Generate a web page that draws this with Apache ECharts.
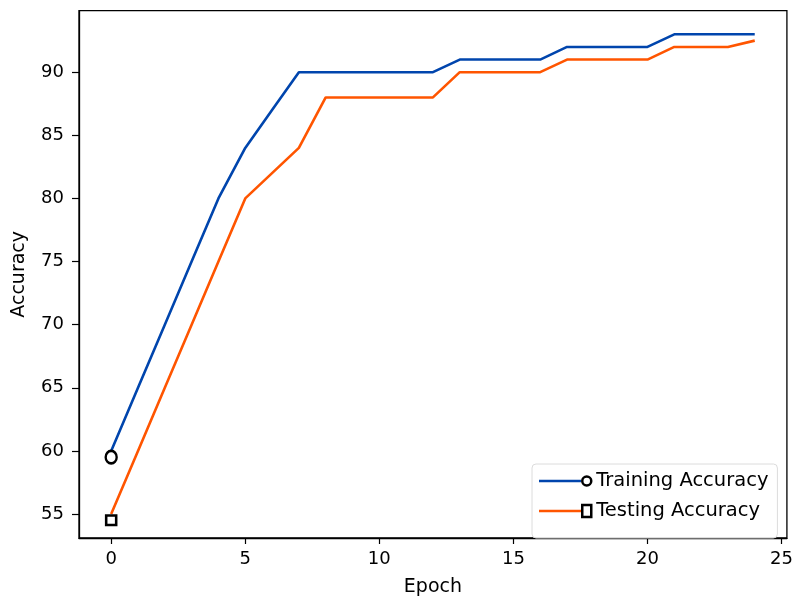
<!DOCTYPE html>
<html>
<head>
<meta charset="utf-8">
<script src="https://cdn.jsdelivr.net/npm/echarts@6/dist/echarts.min.js"></script>
<style>
html,body{margin:0;padding:0;background:#fff;}
#chart{width:796px;height:602px;}
</style>
</head>
<body>
<div id="chart"></div>
<script>
// ---- data ----
const epochs = [0,1,2,3,4,5,6,7,8,9,10,11,12,13,14,15,16,17,18,19,20,21,22,23,24];
const trainingAccuracy = [60,65,70,75,80,84,87,90,90,90,90,90,90,91,91,91,91,92,92,92,92,93,93,93,93];
const testingAccuracy  = [55,60,65,70,75,80,82,84,88,88,88,88,88,90,90,90,90,91,91,91,91,92,92,92,92.5];
const trainingStart = [[0, 59.5]];
const testingStart  = [[0, 54.5]];
const xTicks = [0,5,10,15,20,25];
const yTicks = [55,60,65,70,75,80,85,90];
const seriesNames = ['Training Accuracy','Testing Accuracy'];

const FONT = 'DejaVu Sans';
const BLUE = '#0045ad';
const ORANGE = '#ff5500';

const pairs = (xs, ys) => xs.map((x, i) => [x, ys[i]]);

const chart = echarts.init(document.getElementById('chart'), null, {renderer:'canvas'});
chart.setOption({
  animation: false,
  backgroundColor: '#fff',
  textStyle: {fontFamily: FONT},
  grid: {show: true, borderColor: '#000', borderWidth: 1.3, backgroundColor: 'transparent',
         left: 79, right: 6.7, top: 10.7, bottom: 62.7},
  xAxis: {
    type: 'value', min: -1.2, max: 25.2,
    name: 'Epoch', nameLocation: 'middle', nameGap: 40,
    nameTextStyle: {fontSize: 19, color: '#000', fontFamily: FONT},
    axisLine: {show: true, onZero: false, lineStyle: {color: '#000', width: 1.3}},
    axisTick: {show: true, length: 6, lineStyle: {color: '#000', width: 1.2}, customValues: xTicks},
    axisLabel: {fontSize: 18, color: '#000', margin: 12, fontFamily: FONT, customValues: xTicks},
    splitLine: {show: false}
  },
  yAxis: {
    type: 'value', min: 53.1, max: 94.87,
    name: 'Accuracy', nameLocation: 'middle', nameGap: 50,
    nameTextStyle: {fontSize: 19, color: '#000', fontFamily: FONT},
    axisLine: {show: true, onZero: false, lineStyle: {color: '#000', width: 1.3}},
    axisTick: {show: true, length: 7, lineStyle: {color: '#000', width: 1.2}, customValues: yTicks},
    axisLabel: {fontSize: 18, color: '#000', margin: 15, fontFamily: FONT, customValues: yTicks},
    splitLine: {show: false}
  },
  legend: [
    {
      // line samples (icons only)
      data: seriesNames, orient: 'vertical', left: 539, top: 471, padding: 0,
      icon: 'rect', itemWidth: 42, itemHeight: 2.6, itemGap: 10,
      selectedMode: false, z: 10,
      formatter: () => ' ',
      textStyle: {fontSize: 19.5, lineHeight: 20, fontFamily: FONT}
    },
    {
      // markers + labels, with the frame
      data: ['Training marker','Testing marker'], orient: 'vertical', left: 532, top: 464,
      padding: [7, 9, 17, 49],
      itemWidth: 9, itemHeight: 12, itemGap: 10,
      selectedMode: false, z: 9,
      backgroundColor: 'rgba(255,255,255,0.85)', borderColor: '#dcdcdc', borderWidth: 1, borderRadius: 4,
      itemStyle: {color: '#fff', borderColor: '#000', borderWidth: 2.5},
      formatter: n => n === 'Training marker' ? seriesNames[0] : seriesNames[1],
      textStyle: {fontSize: 19.5, lineHeight: 20, color: '#000', fontFamily: FONT}
    }
  ],
  series: [
    {
      name: seriesNames[0], type: 'line', data: pairs(epochs, trainingAccuracy),
      showSymbol: false, symbol: 'none', color: BLUE,
      itemStyle: {color: BLUE}, lineStyle: {color: BLUE, width: 2.6}, z: 2
    },
    {
      name: seriesNames[1], type: 'line', data: pairs(epochs, testingAccuracy),
      showSymbol: false, symbol: 'none', color: ORANGE,
      itemStyle: {color: ORANGE}, lineStyle: {color: ORANGE, width: 2.6}, z: 2
    },
    {
      name: 'Training marker', type: 'scatter', data: trainingStart,
      symbol: 'circle', symbolSize: [11, 12.5],
      itemStyle: {color: '#fff', borderColor: '#000', borderWidth: 2.5, opacity: 1}, z: 5
    },
    {
      name: 'Testing marker', type: 'scatter', data: testingStart,
      symbol: 'rect', symbolSize: [10, 9.5],
      itemStyle: {color: '#fff', borderColor: '#000', borderWidth: 2.5, opacity: 1}, z: 5
    }
  ]
});
</script>
</body>
</html>
